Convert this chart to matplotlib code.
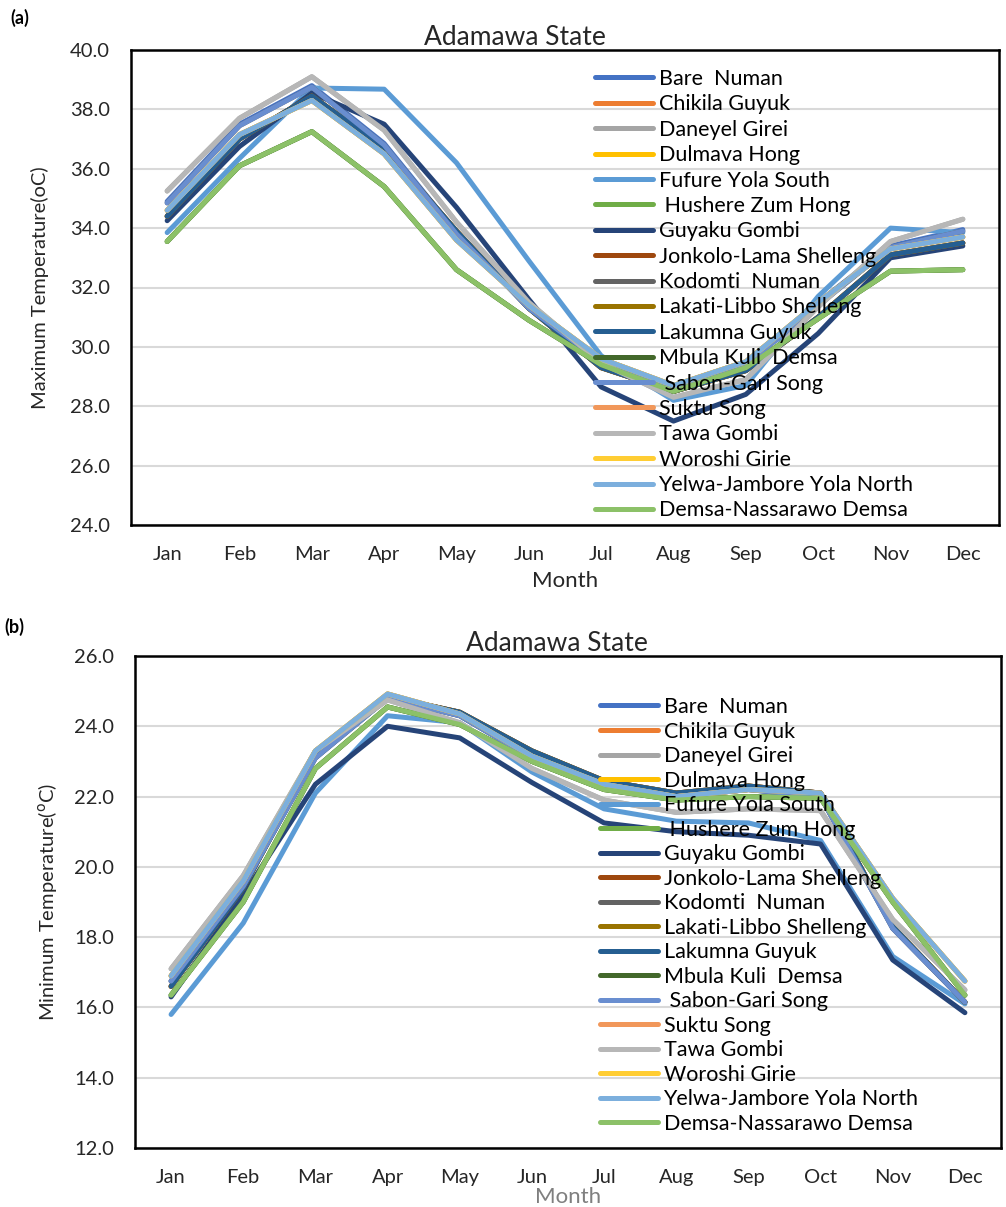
import matplotlib.pyplot as plt

months = ['Jan', 'Feb', 'Mar', 'Apr', 'May', 'Jun', 'Jul', 'Aug', 'Sep', 'Oct', 'Nov', 'Dec']

stations = ['Bare  Numan', 'Chikila Guyuk', 'Daneyel Girei', 'Dulmava Hong',
            'Fufure Yola South', ' Hushere Zum Hong', 'Guyaku Gombi',
            'Jonkolo-Lama Shelleng', 'Kodomti  Numan', 'Lakati-Libbo Shelleng',
            'Lakumna Guyuk', 'Mbula Kuli  Demsa', ' Sabon-Gari Song', 'Suktu Song',
            'Tawa Gombi', 'Woroshi Girie', 'Yelwa-Jambore Yola North',
            'Demsa-Nassarawo Demsa']

# Excel default palette, in series order
colors = ['#4472C4', '#ED7D31', '#A5A5A5', '#FFC000', '#5B9BD5', '#70AD47',
          '#264478', '#9E480E', '#636363', '#997300', '#255E91', '#43682B',
          '#698ED0', '#F1975A', '#B7B7B7', '#FFCD33', '#7CAFDD', '#8CC168']

# (a) maximum temperature, one list per station
# (many stations sit exactly under a later-drawn one, so they are not visible)
bare_max = [34.9, 37.5, 38.8, 36.85, 33.85, 31.3, 29.6, 28.65, 29.45, 31.5, 33.4, 33.95]
chikila_max = [34.4, 37.0, 38.45, 36.7, 33.9, 31.3, 29.3, 28.5, 29.2, 31.0, 33.1, 33.5]
daneyel_max = [35.25, 37.7, 39.1, 37.3, 34.2, 31.5, 29.45, 28.3, 28.9, 31.35, 33.55, 34.3]
dulmava_max = [34.6, 37.15, 38.3, 36.5, 33.6, 31.4, 29.6, 28.7, 29.5, 31.5, 33.3, 33.7]
fufure_max = [33.85, 36.35, 38.72, 38.68, 36.2, 32.9, 29.7, 28.2, 28.7, 31.7, 34.0, 33.85]
hushere_max = [33.55, 36.1, 37.25, 35.4, 32.6, 30.9, 29.4, 28.5, 29.3, 30.95, 32.55, 32.6]
guyaku_max = [34.25, 36.75, 38.55, 37.5, 34.7, 31.6, 28.65, 27.5, 28.4, 30.45, 33.0, 33.4]
jonkolo_max = [34.4, 37.0, 38.45, 36.7, 33.9, 31.3, 29.3, 28.5, 29.2, 31.0, 33.1, 33.5]
kodomti_max = [34.85, 37.45, 38.75, 36.8, 33.8, 31.3, 29.5, 28.6, 29.4, 31.4, 33.35, 33.9]
lakati_max = [34.4, 37.0, 38.45, 36.7, 33.9, 31.3, 29.3, 28.5, 29.2, 31.0, 33.1, 33.5]
lakumna_max = [34.4, 37.0, 38.45, 36.7, 33.9, 31.3, 29.3, 28.5, 29.2, 31.0, 33.1, 33.5]
mbula_max = [33.55, 36.1, 37.25, 35.4, 32.6, 30.9, 29.4, 28.5, 29.3, 30.95, 32.55, 32.6]
sabon_max = [34.85, 37.45, 38.75, 36.8, 33.8, 31.3, 29.5, 28.6, 29.4, 31.4, 33.35, 33.9]
suktu_max = [34.6, 37.15, 38.3, 36.5, 33.6, 31.4, 29.6, 28.7, 29.5, 31.5, 33.3, 33.7]
tawa_max = [35.25, 37.7, 39.1, 37.3, 34.2, 31.5, 29.45, 28.3, 28.9, 31.35, 33.55, 34.3]
woroshi_max = [34.6, 37.15, 38.3, 36.5, 33.6, 31.4, 29.6, 28.7, 29.5, 31.5, 33.3, 33.7]
yelwa_max = [34.6, 37.15, 38.3, 36.5, 33.6, 31.4, 29.6, 28.7, 29.5, 31.5, 33.3, 33.7]
demsa_max = [33.55, 36.1, 37.25, 35.4, 32.6, 30.9, 29.4, 28.5, 29.3, 30.95, 32.55, 32.6]

# (b) minimum temperature
bare_min = [16.75, 19.45, 23.1, 24.8, 24.3, 23.1, 22.3, 22.0, 22.2, 22.0, 18.25, 16.15]
chikila_min = [16.6, 19.4, 23.2, 24.85, 24.4, 23.3, 22.45, 22.1, 22.3, 22.1, 18.3, 16.15]
daneyel_min = [17.1, 19.75, 23.3, 24.75, 24.1, 22.8, 21.9, 21.55, 21.65, 21.6, 18.5, 16.5]
dulmava_min = [16.9, 19.6, 23.3, 24.92, 24.35, 23.15, 22.35, 22.0, 22.2, 22.1, 19.1, 16.75]
fufure_min = [15.8, 18.4, 22.1, 24.3, 24.1, 22.7, 21.65, 21.3, 21.25, 20.75, 17.45, 16.1]
hushere_min = [16.35, 19.0, 22.8, 24.55, 24.05, 23.0, 22.2, 21.9, 22.0, 21.95, 19.0, 16.35]
guyaku_min = [16.3, 19.2, 22.35, 24.0, 23.67, 22.4, 21.25, 21.0, 20.9, 20.65, 17.35, 15.85]
jonkolo_min = [16.6, 19.4, 23.2, 24.85, 24.4, 23.3, 22.45, 22.1, 22.3, 22.1, 18.3, 16.15]
kodomti_min = [16.75, 19.45, 23.1, 24.8, 24.3, 23.1, 22.3, 22.0, 22.2, 22.0, 18.25, 16.15]
lakati_min = [16.6, 19.4, 23.2, 24.85, 24.4, 23.3, 22.45, 22.1, 22.3, 22.1, 18.3, 16.15]
lakumna_min = [16.6, 19.4, 23.2, 24.85, 24.4, 23.3, 22.45, 22.1, 22.3, 22.1, 18.3, 16.15]
mbula_min = [16.35, 19.0, 22.8, 24.55, 24.05, 23.0, 22.2, 21.9, 22.0, 21.95, 19.0, 16.35]
sabon_min = [16.75, 19.45, 23.1, 24.8, 24.3, 23.1, 22.3, 22.0, 22.2, 22.0, 18.25, 16.15]
suktu_min = [16.9, 19.6, 23.3, 24.92, 24.35, 23.15, 22.35, 22.0, 22.2, 22.1, 19.1, 16.75]
tawa_min = [17.1, 19.75, 23.3, 24.75, 24.1, 22.8, 21.9, 21.55, 21.65, 21.6, 18.5, 16.5]
woroshi_min = [16.9, 19.6, 23.3, 24.92, 24.35, 23.15, 22.35, 22.0, 22.2, 22.1, 19.1, 16.75]
yelwa_min = [16.9, 19.6, 23.3, 24.92, 24.35, 23.15, 22.35, 22.0, 22.2, 22.1, 19.1, 16.75]
demsa_min = [16.35, 19.0, 22.8, 24.55, 24.05, 23.0, 22.2, 21.9, 22.0, 21.95, 19.0, 16.35]

max_series = [bare_max, chikila_max, daneyel_max, dulmava_max, fufure_max, hushere_max,
              guyaku_max, jonkolo_max, kodomti_max, lakati_max, lakumna_max, mbula_max,
              sabon_max, suktu_max, tawa_max, woroshi_max, yelwa_max, demsa_max]
min_series = [bare_min, chikila_min, daneyel_min, dulmava_min, fufure_min, hushere_min,
              guyaku_min, jonkolo_min, kodomti_min, lakati_min, lakumna_min, mbula_min,
              sabon_min, suktu_min, tawa_min, woroshi_min, yelwa_min, demsa_min]

plt.rcParams['font.family'] = ['Lato', 'DejaVu Sans']

fig = plt.figure(figsize=(10.06, 12.07), dpi=100)
W, H = 1006, 1207


def panel(rect, series, ymin, ymax, ylabel, label_x, title_x, legend_xy, spacing,
          xlabel_color, xlabel_pad):
    ax = fig.add_axes(rect)
    for vals, name, c in zip(series, stations, colors):
        ax.plot(months, vals, color=c, lw=3.6, label=name, solid_capstyle='round')
    ax.set_xlim(-0.5, 11.5)
    ax.set_ylim(ymin, ymax)
    ax.set_yticks(range(ymin, ymax + 1, 2))
    ax.set_yticklabels(['%.1f' % v for v in range(ymin, ymax + 1, 2)])
    ax.grid(axis='y', color='#D9D9D9', lw=1.5)
    ax.set_axisbelow(True)
    ax.tick_params(length=0, labelsize=14.5, colors='#262626')
    ax.tick_params(axis='y', pad=15)
    ax.tick_params(axis='x', pad=15)
    for s in ax.spines.values():
        s.set_linewidth(1.8)
        s.set_color('black')
    ax.set_ylabel(ylabel, fontsize=14.5, color='#262626')
    ax.yaxis.set_label_coords(label_x, 0.5)
    ax.set_xlabel('Month', fontsize=16, color=xlabel_color, labelpad=xlabel_pad)
    ax.set_title('Adamawa State', fontsize=19, color='#262626', pad=3, x=title_x)
    ax.legend(loc='upper left', bbox_to_anchor=legend_xy, bbox_transform=fig.transFigure,
              frameon=False, fontsize=15.5, handlelength=2.7, handletextpad=0.25,
              labelspacing=spacing, borderaxespad=0, borderpad=0)
    return ax


ax1 = panel([131 / W, 1 - 525 / H, 868 / W, 475 / H], max_series, 24, 40,
            'Maximum Temperature(oC)', -0.094, 0.442, (595 / W, 1 - 69 / H), 0.25,
            '#262626', 6)
ax2 = panel([135 / W, 1 - 1148 / H, 866 / W, 492 / H], min_series, 12, 26,
            'Minimum Temperature($^{\\mathrm{o}}$C)', -0.088, 0.487, (600 / W, 1 - 697 / H), 0.21,
            '#7F7F7F', 1)

fig.text(10 / W, 1 - 18 / H, '(a)', fontsize=13, fontweight='bold', va='center')
fig.text(4 / W, 1 - 627 / H, '(b)', fontsize=13, fontweight='bold', va='center')

fig.savefig('out.png', dpi=100)
